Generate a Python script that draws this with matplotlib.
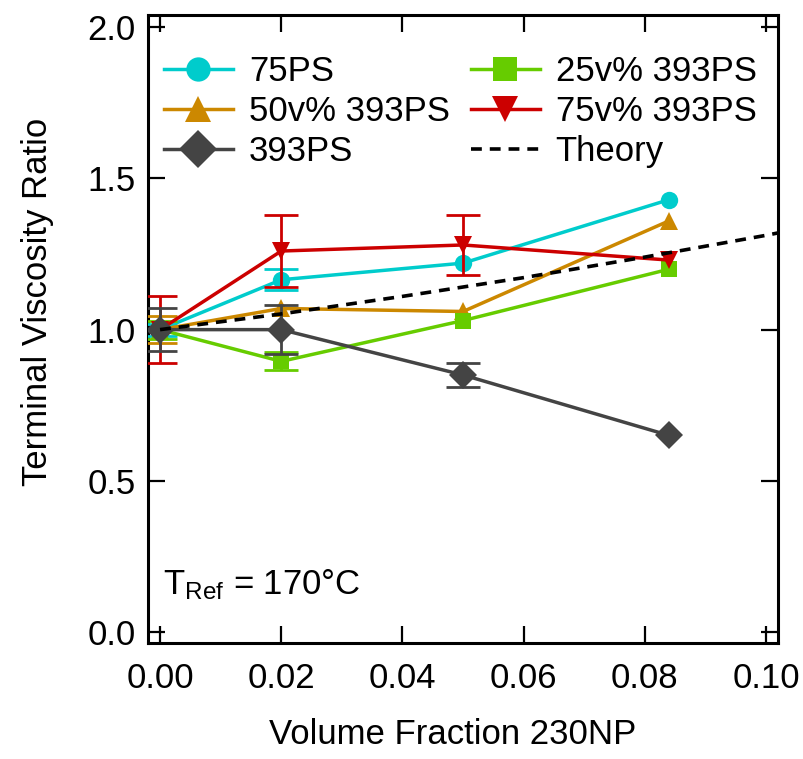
"""
Terminal viscosity ratio vs. 230NP volume fraction for the PS blends,
with the theory curve (dashed) for comparison.
"""

import matplotlib
matplotlib.use("Agg")
import matplotlib.pyplot as plt
from matplotlib.ticker import FormatStrFormatter

plt.rcParams["font.family"] = ["Liberation Sans", "DejaVu Sans"]
plt.rcParams["mathtext.default"] = "regular"

# ---------------------------------------------------------------------------
# data (error 0 = no bar drawn)
phi = [0.0, 0.02, 0.05, 0.084]

ps75 = [1.00, 1.165, 1.22, 1.43]
ps75_err = [0.02, 0.035, 0.0, 0.0]

v50 = [1.00, 1.07, 1.06, 1.36]
v50_err = [0.045, 0.0, 0.0, 0.0]

ps393 = [1.00, 1.00, 0.85, 0.65]
ps393_err = [0.07, 0.08, 0.04, 0.0]

v25 = [1.00, 0.895, 1.03, 1.20]
v25_err = [0.03, 0.03, 0.0, 0.0]

v75 = [1.00, 1.26, 1.28, 1.23]
v75_err = [0.11, 0.12, 0.10, 0.0]

theory_phi = [0.0, 0.02, 0.04, 0.06, 0.08, 0.10, 0.102]
theory_eta = [1.0, 1.052, 1.110, 1.172, 1.240, 1.312, 1.320]

series = [
    # label, y, err, colour, marker, size, zorder
    ("75PS",         ps75,  ps75_err,  "#00CCCC", "o", 12.5, 3),
    ("50v% 393PS",   v50,   v50_err,   "#CC8800", "^", 13,   4),
    ("393PS",        ps393, ps393_err, "#444444", "D", 14,   7),
    ("25v% 393PS",   v25,   v25_err,   "#66CC00", "s", 12,   5),
    ("75v% 393PS",   v75,   v75_err,   "#CC0000", "v", 13,   6),
]

FS = 25

fig = plt.figure(figsize=(8.04, 7.59), dpi=100)
ax = fig.add_axes([0.184, 0.153, 0.784, 0.827])

handles = []
for label, y, err, col, mk, ms, z in series:
    ln, = ax.plot(phi, y, color=col, marker=mk, markersize=ms,
                  markeredgewidth=0, linewidth=2.5, label=label, zorder=z)
    handles.append(ln)
    keep = [i for i, e in enumerate(err) if e > 0]
    ax.errorbar([phi[i] for i in keep], [y[i] for i in keep],
                yerr=[err[i] for i in keep], fmt="none", ecolor=col,
                elinewidth=2.0, capsize=12, capthick=2.0, zorder=z)

th, = ax.plot(theory_phi, theory_eta, color="black", linestyle=(0, (3, 2.2)),
              linewidth=2.6, label="Theory", zorder=10)

ax.set_xlim(-0.002, 0.102)
ax.set_ylim(-0.036, 2.04)
ax.set_xticks([0.0, 0.02, 0.04, 0.06, 0.08, 0.10])
ax.set_yticks([0.0, 0.5, 1.0, 1.5, 2.0])
ax.xaxis.set_major_formatter(FormatStrFormatter("%.2f"))
ax.yaxis.set_major_formatter(FormatStrFormatter("%.1f"))

ax.tick_params(direction="in", length=12, width=1.6, labelsize=FS,
               top=True, right=True)
ax.tick_params(axis="x", pad=14)
ax.tick_params(axis="y", pad=9)
for sp in ax.spines.values():
    sp.set_linewidth(2.2)

ax.set_xlabel("Volume Fraction 230NP", fontsize=FS, labelpad=16)
ax.set_ylabel("Terminal Viscosity Ratio", fontsize=FS, labelpad=24)
ax.xaxis.label.set_x(0.483)
ax.yaxis.label.set_y(0.543)

ax.text(0.024, 0.092, r"T$_{Ref}$ = 170°C", transform=ax.transAxes,
        fontsize=FS, ha="left", va="center")

ax.legend(handles=handles + [th],
          ncol=2, loc="upper left", frameon=False, fontsize=FS,
          bbox_to_anchor=(0.003, 0.958), handlelength=2.0,
          markerscale=1.4, handletextpad=0.45, columnspacing=0.6,
          labelspacing=0.2, borderaxespad=0.0)

fig.savefig("out.png", dpi=100)
